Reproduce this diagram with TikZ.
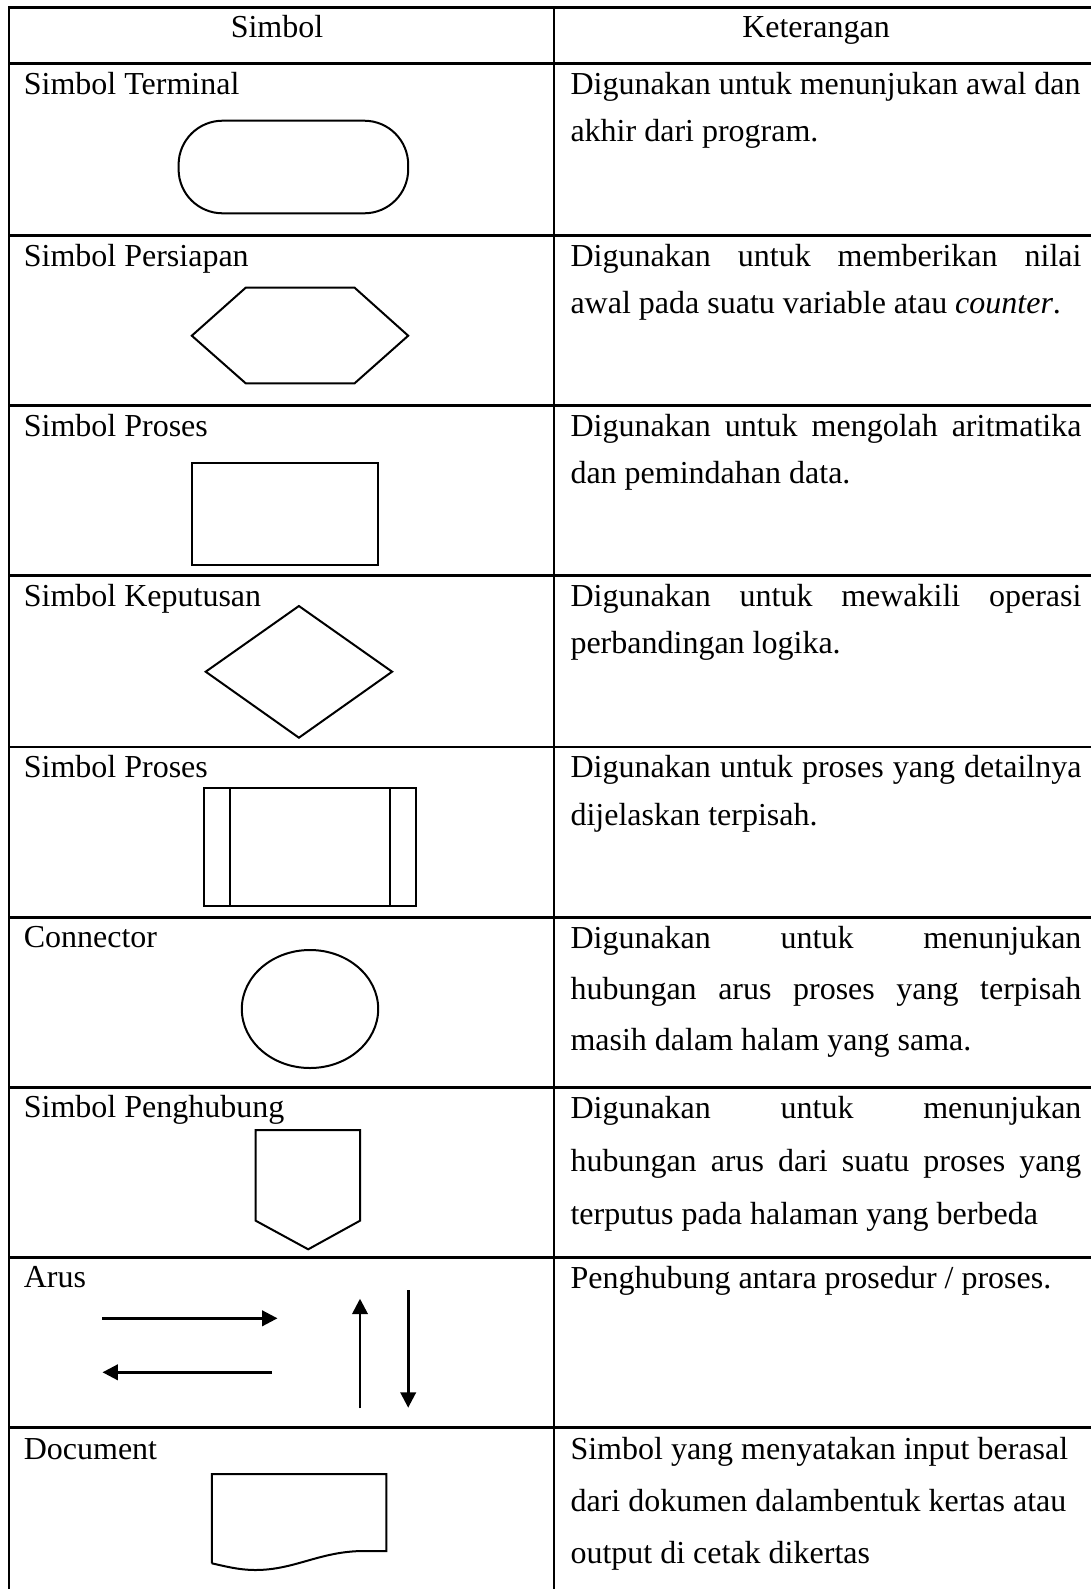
\documentclass[tikz,border=0pt]{standalone}
\usepackage{fontspec}
\setmainfont{Liberation Serif}
\usetikzlibrary{arrows.meta}
\newcommand{\jline}[1]{\makebox[191.6pt][s]{#1}}
\begin{document}
\begin{tikzpicture}[x=0.375pt,y=-0.375pt,
  grid/.style={line width=1.1pt},
  shp/.style={line width=0.75pt},
  arr/.style={line width=1pt,-{Triangle[length=5.8pt,width=5.8pt]}},
  lbl/.style={anchor=base west,inner sep=0pt,font=\fontsize{12pt}{14pt}\selectfont},
  hdr/.style={anchor=base,inner sep=0pt,font=\fontsize{12pt}{14pt}\selectfont}]
\useasboundingbox (0,0) rectangle (1091,1589);
% table grid (right and bottom borders lie outside the picture)
\draw[grid] (9,1589) -- (9,7.3) -- (1091,7.3);
\draw[grid] (554,7.3) -- (554,1589);
\foreach \y in {63.3,235.7,405.7,575.7,747,917.7,1087.7,1257.7,1427.7}
  \draw[grid] (9,\y) -- (1091,\y);
% header
\node[hdr] (h1) at (277,37) {Simbol};
\node[hdr] (h2) at (816,37) {Keterangan};
% left labels
\node[lbl] (l1) at (23.3,94) {Simbol Terminal};
\node[lbl] (l2) at (23.3,266) {Simbol Persiapan};
\node[lbl] (l3) at (23.3,436) {Simbol Proses};
\node[lbl] (l4) at (23.3,606) {Simbol Keputusan};
\node[lbl] (l5) at (23.3,777) {Simbol Proses};
\node[lbl] (l6) at (23.3,947.5) {Connector};
\node[lbl] (l7) at (23.3,1117.5) {Simbol Penghubung};
\node[lbl] (l8) at (23.3,1287.5) {Arus};
\node[lbl] (l9) at (23.3,1459) {Document};
% right descriptions
\node[lbl] (r1a) at (570,94) {Digunakan untuk menunjukan awal dan};
\node[lbl] (r1b) at (570,141.8) {akhir dari program.};
\node[lbl] (r2a) at (570,266) {\jline{Digunakan untuk memberikan nilai}};
\node[lbl] (r2b) at (570,313.8) {awal pada suatu variable atau \textit{counter}.};
\node[lbl] (r3a) at (570,436) {\jline{Digunakan untuk mengolah aritmatika}};
\node[lbl] (r3b) at (570,483.8) {dan pemindahan data.};
\node[lbl] (r4a) at (570,606) {\jline{Digunakan untuk mewakili operasi}};
\node[lbl] (r4b) at (570,653.8) {perbandingan logika.};
\node[lbl] (r5a) at (570,777.5) {\jline{Digunakan untuk proses yang detailnya}};
\node[lbl] (r5b) at (570,825.3) {dijelaskan terpisah.};
\node[lbl] (r6a) at (570,948) {\jline{Digunakan untuk menunjukan}};
\node[lbl] (r6b) at (570,999) {\jline{hubungan arus proses yang terpisah}};
\node[lbl] (r6c) at (570,1050) {masih dalam halam yang sama.};
\node[lbl] (r7a) at (570,1118) {\jline{Digunakan untuk menunjukan}};
\node[lbl] (r7b) at (570,1171) {\jline{hubungan arus dari suatu proses yang}};
\node[lbl] (r7c) at (570,1224) {terputus pada halaman yang berbeda};
\node[lbl] (r8a) at (570,1288) {Penghubung antara prosedur / proses.};
\node[lbl] (r9a) at (570,1459) {Simbol yang menyatakan input berasal};
\node[lbl] (r9b) at (570,1511) {dari dokumen dalambentuk kertas atau};
\node[lbl] (r9c) at (570,1563) {output di cetak dikertas};
% terminal
\draw[shp,rounded corners=16.5pt] (178.6,120.7) rectangle (408.2,213.3);
% preparation hexagon
\draw[shp] (191.8,335.7) -- (245.7,287.7) -- (354.6,287.7) -- (408.2,335.7)
  -- (354.6,383.3) -- (245.7,383.3) -- cycle;
% process
\draw[shp] (191.8,463.3) rectangle (378.2,565);
% decision
\draw[shp] (298.9,606) -- (392.1,671.7) -- (298.9,737.7) -- (205.7,671.7) -- cycle;
% predefined process
\draw[shp] (203.6,787.7) rectangle (416.4,905.7);
\draw[shp] (229.6,787.7) -- (229.6,905.7);
\draw[shp] (390.4,787.7) -- (390.4,905.7);
% connector
\draw[shp] (310,1009) ellipse [x radius=68.2, y radius=59];
% off-page connector
\draw[shp] (255.7,1130) -- (360,1130) -- (360,1220.7) -- (308.2,1249.3)
  -- (255.7,1220.7) -- cycle;
% flow arrows
\coordinate (a1s) at (102,1318.3);
\coordinate (a1e) at (277.5,1318.3);
\coordinate (a2s) at (272,1372.3);
\coordinate (a2e) at (102.5,1372.3);
\coordinate (a3s) at (360,1408.3);
\coordinate (a3e) at (360,1298.7);
\coordinate (a4s) at (408.2,1290.3);
\coordinate (a4e) at (408.2,1407.7);
\draw[arr] (a1s) -- (a1e);
\draw[arr] (a2s) -- (a2e);
\draw[arr] (a3s) -- (a3e);
\draw[arr] (a4s) -- (a4e);
% document
\draw[shp] (211.8,1563.3) -- (211.8,1474) -- (386.4,1474) -- (386.4,1551)
  -- (364.3,1551) .. controls (320,1551) and (295,1570) .. (255.4,1570)
  .. controls (238,1570) and (222,1565.5) .. (211.8,1563.3);
\end{tikzpicture}
\end{document}
